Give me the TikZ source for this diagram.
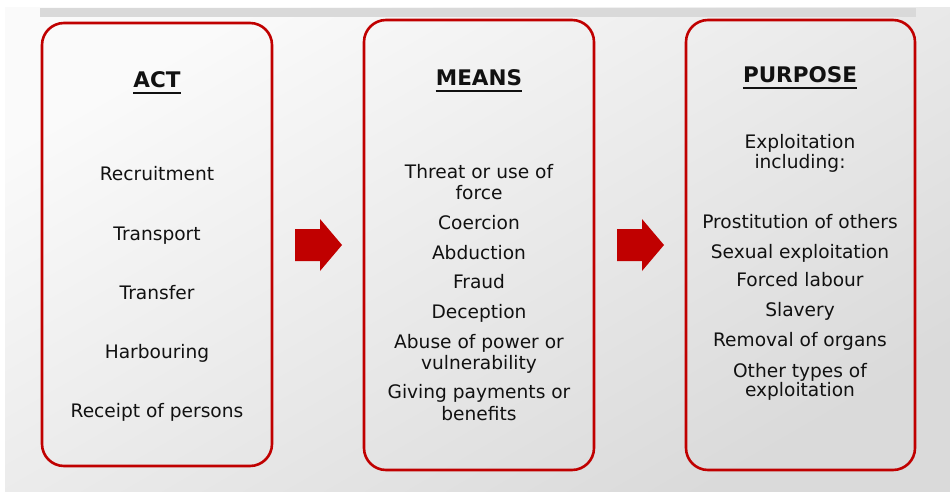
\documentclass[tikz,border=0pt]{standalone}
\usepackage{fontspec}
\setmainfont{DejaVu Sans}
\usetikzlibrary{calc}
\definecolor{boxred}{HTML}{C00000}
\definecolor{txt}{HTML}{111111}
\definecolor{barg}{HTML}{D9D9D9}
\definecolor{bgA}{HTML}{FAFAFA}
\definecolor{bgB}{HTML}{DADADA}
\tikzset{
  colbox/.style={draw=boxred, line width=2.6pt, rounded corners=22pt, minimum width=230pt, inner sep=0pt},
  item/.style={anchor=base, text=txt, inner sep=0pt, font=\fontsize{18.6}{21}\selectfont},
  head/.style={anchor=base, text=txt, inner sep=0pt, font=\fontsize{21.5}{24}\selectfont\bfseries},
  uline/.style={draw=txt, line width=1.9pt},
  bigarrow/.style={fill=boxred, draw=none}
}
\begin{document}
\begin{tikzpicture}[x=1pt,y=-1pt]
\useasboundingbox (0,0) rectangle (950,492);
\fill[white] (0,0) rectangle (950,492);
\shade[top color=bgA, bottom color=bgB, shading angle=30] (5,8) rectangle (950,492);
\fill[barg] (40,8) rectangle (916,17);
% boxes
\node[colbox, minimum height=443pt] (actbox) at (157,244.5) {};
\node[colbox, minimum height=450pt] (meansbox) at (479,245) {};
\node[colbox, minimum height=450pt, minimum width=229pt] (purpbox) at (800.5,245) {};
% arrows
\coordinate (arr1) at (295,245);
\coordinate (arr2) at (617,245);
\foreach \a in {arr1,arr2}{
  \fill[bigarrow] ($(\a)+(0,-16)$) -- ($(\a)+(25,-16)$) -- ($(\a)+(25,-26)$) -- ($(\a)+(47,0)$)
     -- ($(\a)+(25,26)$) -- ($(\a)+(25,16)$) -- ($(\a)+(0,16)$) -- cycle;
}
% headings
\node[head] (hact) at (157,88) {ACT};
\node[head] (hmeans) at (479,86) {MEANS};
\node[head] (hpurp) at (800,83) {PURPOSE};
\foreach \h in {hact,hmeans,hpurp}{
  \draw[uline] ($(\h.base west)+(0,5)$) -- ($(\h.base east)+(0,5)$);
}
% ACT items
\node[item] (a1) at (157,180) {Recruitment};
\node[item] (a2) at (157,240) {Transport};
\node[item] (a3) at (157,299) {Transfer};
\node[item] (a4) at (157,358) {Harbouring};
\node[item] (a5) at (157,417) {Receipt of persons};
% MEANS items
\node[item] (m1) at (479,178) {Threat or use of};
\node[item] (m1b) at (479,199) {force};
\node[item] (m2) at (479,229) {Coercion};
\node[item] (m3) at (479,259) {Abduction};
\node[item] (m4) at (479,288) {Fraud};
\node[item] (m5) at (479,318) {Deception};
\node[item] (m6) at (479,348) {Abuse of power or};
\node[item] (m6b) at (479,369) {vulnerability};
\node[item] (m7) at (479,398) {Giving payments or};
\node[item] (m7b) at (479,420) {benefits};
% PURPOSE items
\node[item] (p0) at (800,148) {Exploitation};
\node[item] (p0b) at (800,168) {including:};
\node[item] (p1) at (800,228) {Prostitution of others};
\node[item] (p2) at (800,258) {Sexual exploitation};
\node[item] (p3) at (800,286) {Forced labour};
\node[item] (p4) at (800,316) {Slavery};
\node[item] (p5) at (800,346) {Removal of organs};
\node[item] (p6) at (800,377) {Other types of};
\node[item] (p6b) at (800,396) {exploitation};
\end{tikzpicture}
\end{document}
